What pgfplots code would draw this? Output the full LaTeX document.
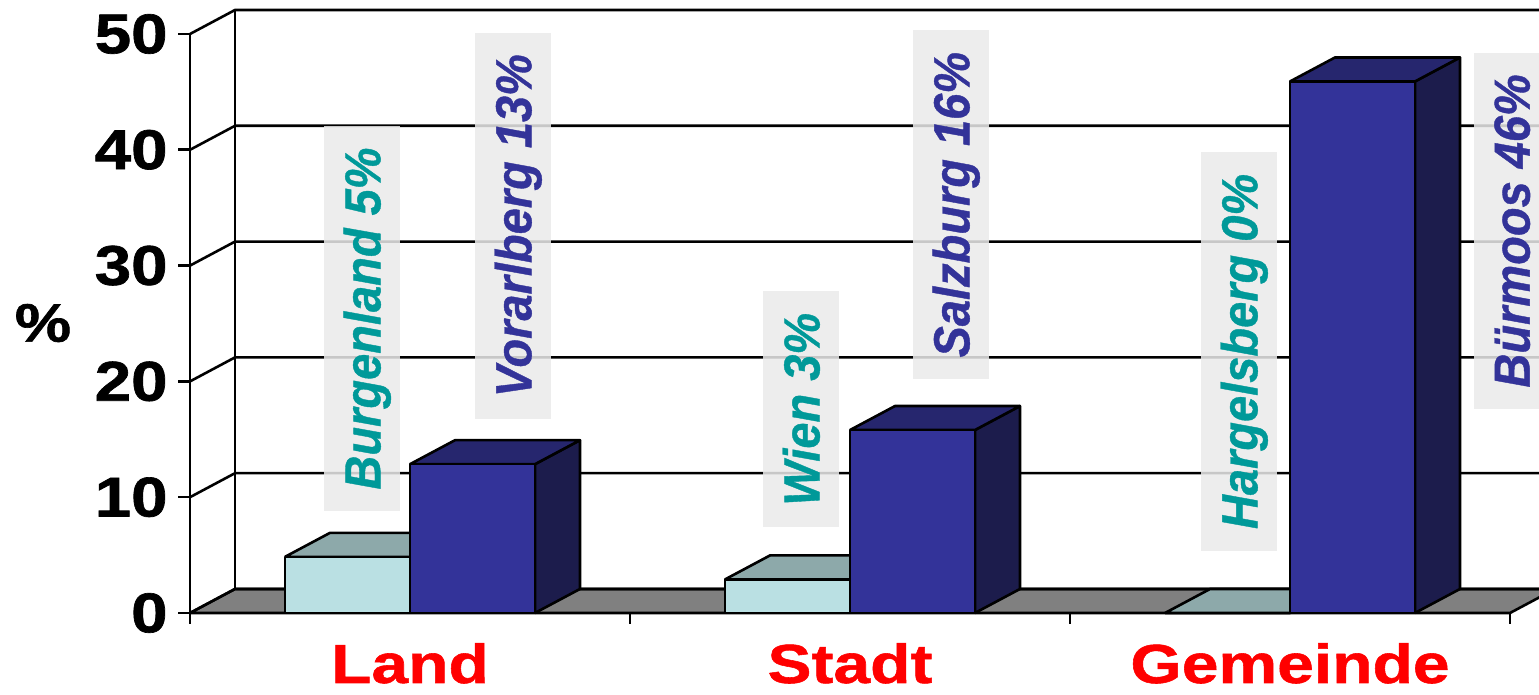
\documentclass[border=0pt]{standalone}
\usepackage{fontspec}
\setmainfont{Liberation Sans}
\newfontfamily\widefont[FakeStretch=1.17, FakeBold=1.2]{Liberation Sans}
\newfontfamily\catfont[FakeStretch=1.2, FakeBold=1]{Liberation Sans}
\newfontfamily\lblfont[FakeBold=0.8]{Liberation Sans}
\usepackage{pgfplots}
\pgfplotsset{compat=1.18}

\definecolor{lightfront}{RGB}{186,224,227}
\definecolor{lighttop}{RGB}{141,169,170}
\definecolor{bluefront}{RGB}{51,51,153}
\definecolor{bluetop}{RGB}{38,38,110}
\definecolor{blueside}{RGB}{28,28,76}
\definecolor{floorgray}{RGB}{128,128,128}
\definecolor{tealtxt}{RGB}{0,153,153}
\definecolor{bluetxt}{RGB}{51,51,153}
\definecolor{boxgray}{RGB}{234,234,234}

% #1 left edge, #2 right edge, #3 value
\newcommand{\lightbar}[3]{%
  \addplot3[fill=lighttop, draw=black, line width=1.3pt, line join=round]
    coordinates {(#1,0,#3) (#2,0,#3) (#2,1,#3) (#1,1,#3) (#1,0,#3)};
  \addplot3[fill=lightfront, draw=black, line width=1.3pt, line join=round]
    coordinates {(#1,0,0) (#2,0,0) (#2,0,#3) (#1,0,#3) (#1,0,0)};
}
\newcommand{\bluebar}[3]{%
  \addplot3[fill=blueside, draw=black, line width=1.3pt, line join=round]
    coordinates {(#2,0,0) (#2,1,0) (#2,1,#3) (#2,0,#3) (#2,0,0)};
  \addplot3[fill=bluetop, draw=black, line width=1.3pt, line join=round]
    coordinates {(#1,0,#3) (#2,0,#3) (#2,1,#3) (#1,1,#3) (#1,0,#3)};
  \addplot3[fill=bluefront, draw=black, line width=1.3pt, line join=round]
    coordinates {(#1,0,0) (#2,0,0) (#2,0,#3) (#1,0,#3) (#1,0,0)};
}
\tikzset{
  dlabel/.style={rotate=90, yscale=1.08, fill=boxgray, fill opacity=0.85, text opacity=1,
    font=\lblfont\fontsize{23.5}{26}\selectfont\bfseries\itshape, minimum height=35pt,
    inner xsep=10.75pt, inner ysep=0pt, text height=17pt, text depth=0pt, anchor=center},
  catlabel/.style={anchor=base, text=red, yshift=-35pt, inner sep=0pt,
    font=\catfont\bfseries\fontsize{27.5}{30}\selectfont},
}

\begin{document}
\begin{tikzpicture}
\begin{axis}[
  x={(220pt,0pt)}, y={(22.5pt,12pt)}, z={(0pt,5.79pt)},
  hide axis, clip=false,
  xmin=-0.5, xmax=2.5, ymin=0, ymax=1, zmin=0, zmax=50,
]
\coordinate (BL) at (axis cs:-0.5,0,0);
% floor
\addplot3[fill=floorgray, draw=black, line width=1.3pt]
  coordinates {(-0.5,0,0) (2.5,0,0) (2.5,1,0) (-0.5,1,0) (-0.5,0,0)};
% walls and grid
\pgfplotsinvokeforeach{0,10,20,30,40,50}{
  \draw[line width=1.3pt] (axis cs:-0.5,0,#1) -- (axis cs:-0.5,1,#1) -- (axis cs:2.5,1,#1);
  \draw[line width=1.3pt] (axis cs:-0.5,0,#1) -- ++(-6pt,0pt);
  \node[anchor=east, inner sep=0pt, xshift=-11pt,
        font=\widefont\bfseries\fontsize{28}{30}\selectfont] at (axis cs:-0.5,0,#1) {#1};
}
\draw[line width=1.3pt] (axis cs:-0.5,1,0) -- (axis cs:-0.5,1,50);
\draw[line width=1.3pt] (axis cs:-0.5,0,50) -- (axis cs:-0.5,0,0) -- (axis cs:2.5,0,0);
\pgfplotsinvokeforeach{-0.5,0.5,1.5,2.5}{
  \draw[line width=1.3pt] (axis cs:#1,0,0) -- ++(0pt,-5.5pt);
}
% bars: Land, Stadt, Gemeinde
\lightbar{-0.284}{0}{4.85}
\bluebar{0}{0.284}{12.85}
\lightbar{0.716}{1}{2.9}
\bluebar{1}{1.284}{15.8}
\lightbar{1.716}{2}{0}
\bluebar{2}{2.284}{45.9}
% data labels
\node[dlabel, text=tealtxt] at (axis cs:-0.109,0,25.43) {Burgenland 5\%};
\node[dlabel, text=bluetxt] at (axis cs:0.234,0,33.45) {Vorarlberg 13\%};
\node[dlabel, text=tealtxt] at (axis cs:0.889,0,17.59) {Wien 3\%};
\node[dlabel, text=bluetxt] at (axis cs:1.2295,0,35.26) {Salzburg 16\%};
\node[dlabel, text=tealtxt] at (axis cs:1.884,0,22.59) {Hargelsberg 0\%};
\node[dlabel, text=bluetxt] at (axis cs:2.503,0,33.0) {Bürmoos 46\%};
% axis title and categories
\node[font=\widefont\bfseries\fontsize{27}{30}\selectfont, xshift=-73.5pt] at (axis cs:-0.5,0,25.04) {\%};
\node[catlabel] at (axis cs:0,0,0) {Land};
\node[catlabel] at (axis cs:1,0,0) {Stadt};
\node[catlabel] at (axis cs:2,0,0) {Gemeinde};
\end{axis}
\pgfresetboundingbox
\path[use as bounding box] (BL) ++(-95pt,-41pt) rectangle ++(769.5pt,347.5pt);
\end{tikzpicture}
\end{document}
